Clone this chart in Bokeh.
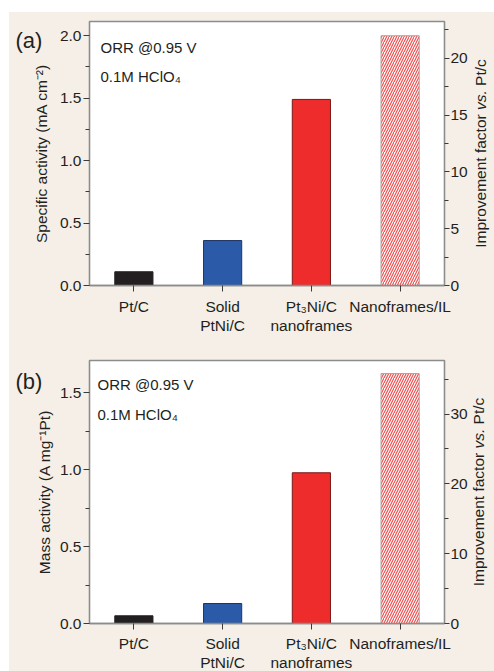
from bokeh.plotting import figure
from bokeh.models import (Range1d, FactorRange, LinearAxis, FixedTicker,
                          NumeralTickFormatter, Label, ColumnDataSource)
from bokeh.layouts import column
from bokeh.embed import file_html
from bokeh.resources import INLINE

# ---------------- data ----------------
categories = ["Pt/C", "Solid\nPtNi/C", "Pt\u2083Ni/C\nnanoframes", "Nanoframes/IL"]
specific_activity = [0.11, 0.36, 1.49, 2.00]      # mA cm^-2
mass_activity = [0.05, 0.13, 0.98, 1.625]         # A mg^-1 Pt

sa_ticks = [0.0, 0.5, 1.0, 1.5, 2.0]
sa_minor = [0.25, 0.75, 1.25, 1.75]
sa_factor_ticks = [0, 5, 10, 15, 20]
sa_factor_minor = [2.5, 7.5, 12.5, 17.5, 22.5]
ma_ticks = [0.0, 0.5, 1.0, 1.5]
ma_minor = [0.25, 0.75, 1.25]
ma_factor_ticks = [0, 10, 20, 30]
ma_factor_minor = [5, 15, 25, 35]

bar_fill = ["#231f20", "#2b5aa8", "#ee2c2c"]
bar_line = ["#231f20", "#1c3566", "#7a1818"]

# ---------------- style ----------------
BG = "#f5efe8"
FRAME = "#8c8c8c"
TICK = "#3a3a3a"
TEXT = "#231f20"
FONT = "Liberation Sans"
FS = "15.5px"
FSN = 15.5


def approx_width(s):
    w = {"I": .278, "m": .833, "p": .556, "r": .333, "o": .556, "v": .5, "e": .556,
         "n": .556, "t": .278, " ": .278, "f": .278, "a": .556, "c": .5, "s": .5,
         ".": .278, "P": .667, "/": .278}
    return sum(w.get(ch, .556) for ch in s) * FSN


def panel(tag, values, ylabel, yend, fend, yt, ym, ft, fm, fh, bl, br, bt, bb,
          lab_std, tag_xy, txt_x, txt_y, rlab_x, xstand):
    p = figure(x_range=FactorRange(factors=categories, range_padding=0),
               y_range=Range1d(0, yend),
               frame_width=355, frame_height=fh,
               min_border_left=bl, min_border_right=br,
               min_border_top=bt, min_border_bottom=bb,
               output_backend="svg", toolbar_location=None,
               background_fill_color="white", border_fill_color=BG,
               outline_line_color=FRAME, outline_line_width=1.3)
    p.grid.visible = False
    p.extra_y_ranges = {"f": Range1d(0, fend)}

    src = ColumnDataSource(dict(x=categories[:3], top=values[:3],
                                fill=bar_fill, line=bar_line))
    p.vbar(x="x", top="top", width=0.43, fill_color="fill", line_color="line",
           line_width=1, source=src)
    p.vbar(x=categories[3:], top=values[3:], width=0.43, fill_color="white",
           line_color="#a9a3a3", line_width=1, hatch_pattern="/",
           hatch_color="#ee5050", hatch_scale=5, hatch_weight=1.2)

    xa = p.xaxis[0]
    xa.axis_line_color = FRAME
    xa.axis_line_width = 1.3
    xa.major_tick_line_color = TICK
    xa.major_tick_out = 6
    xa.major_tick_in = 0
    xa.minor_tick_line_color = None
    xa.major_label_text_font = FONT
    xa.major_label_text_font_size = FS
    xa.major_label_text_color = TEXT
    xa.major_label_standoff = xstand
    xa.major_label_text_line_height = 1.15

    ya = p.yaxis[0]
    ya.ticker = FixedTicker(ticks=yt, minor_ticks=ym)
    ya.formatter = NumeralTickFormatter(format="0.0")
    ya.axis_line_color = FRAME
    ya.axis_line_width = 1.3
    ya.major_tick_line_color = TICK
    ya.minor_tick_line_color = TICK
    ya.major_tick_out = 6
    ya.major_tick_in = 0
    ya.minor_tick_out = 4
    ya.minor_tick_in = 0
    ya.major_label_text_font = FONT
    ya.major_label_text_font_size = FS
    ya.major_label_text_color = TEXT
    ya.major_label_standoff = 2
    ya.axis_label = ylabel
    ya.axis_label_text_font = FONT
    ya.axis_label_text_font_size = FS
    ya.axis_label_text_font_style = "normal"
    ya.axis_label_text_color = TEXT
    ya.axis_label_standoff = lab_std

    ra = LinearAxis(y_range_name="f", ticker=FixedTicker(ticks=ft, minor_ticks=fm))
    ra.axis_line_color = FRAME
    ra.axis_line_width = 1.3
    ra.major_tick_line_color = TICK
    ra.minor_tick_line_color = TICK
    ra.major_tick_out = 5
    ra.major_tick_in = 0
    ra.minor_tick_out = 4
    ra.minor_tick_in = 0
    ra.major_label_text_font = FONT
    ra.major_label_text_font_size = FS
    ra.major_label_text_color = TEXT
    ra.major_label_standoff = 1
    p.add_layout(ra, "right")

    # Labels drawn outside the frame live in the right side panel (so they are
    # not clipped); the extra right border lies beyond the window edge.
    p.add_layout(Label(x=tag_xy[0], y=tag_xy[1], x_units="canvas", y_units="canvas",
                       text=tag, text_font=FONT, text_font_size="22px",
                       text_color=TEXT, text_baseline="alphabetic"), "right")

    pieces = [("Improvement factor", "normal"), ("vs.", "italic"), ("Pt/c", "normal")]
    total = sum(approx_width(t) for t, _ in pieces) + 2 * approx_width(" ")
    y0 = bt + fh / 2 + total / 2
    for t, style in pieces:
        p.add_layout(Label(x=rlab_x, y=y0, x_units="canvas", y_units="canvas",
                           text=t, angle=90, angle_units="deg", text_font=FONT,
                           text_font_size=FS, text_font_style=style, text_color=TEXT,
                           text_align="left", text_baseline="middle"), "right")
        y0 -= approx_width(t) + approx_width(" ")

    # conditions text (inside the frame)
    p.add_layout(Label(x=txt_x, y=txt_y, x_units="screen", y_units="screen",
                       text="ORR @0.95 V", text_font=FONT, text_font_size="15px",
                       text_color=TEXT, text_baseline="alphabetic"))
    p.add_layout(Label(x=txt_x, y=txt_y - 29.5, x_units="screen", y_units="screen",
                       text="0.1M HClO\u2084", text_font=FONT, text_font_size="15px",
                       text_color=TEXT, text_baseline="alphabetic"))
    return p


pa = panel("(a)", specific_activity, "Specific activity (mA cm\u207b\u00b2)",
           2.114, 23.23, sa_ticks, sa_minor, sa_factor_ticks, sa_factor_minor,
           fh=264, bl=80, br=50, bt=9, bb=58, lab_std=7,
           tag_xy=(6, 28), txt_x=11, txt_y=238.3, rlab_x=471, xstand=6)
pb = panel("(b)", mass_activity, "Mass activity (A mg\u207b\u00b9Pt)",
           1.71, 37.67, ma_ticks, ma_minor, ma_factor_ticks, ma_factor_minor,
           fh=263, bl=76, br=54, bt=17, bb=48, lab_std=4,
           tag_xy=(6, 38), txt_x=8, txt_y=239, rlab_x=469, xstand=5)

layout = column(pa, pb, spacing=0, margin=(12, 0, 0, 9),
                styles={"background-color": BG})
open("out.html", "w").write(file_html(layout, INLINE))
